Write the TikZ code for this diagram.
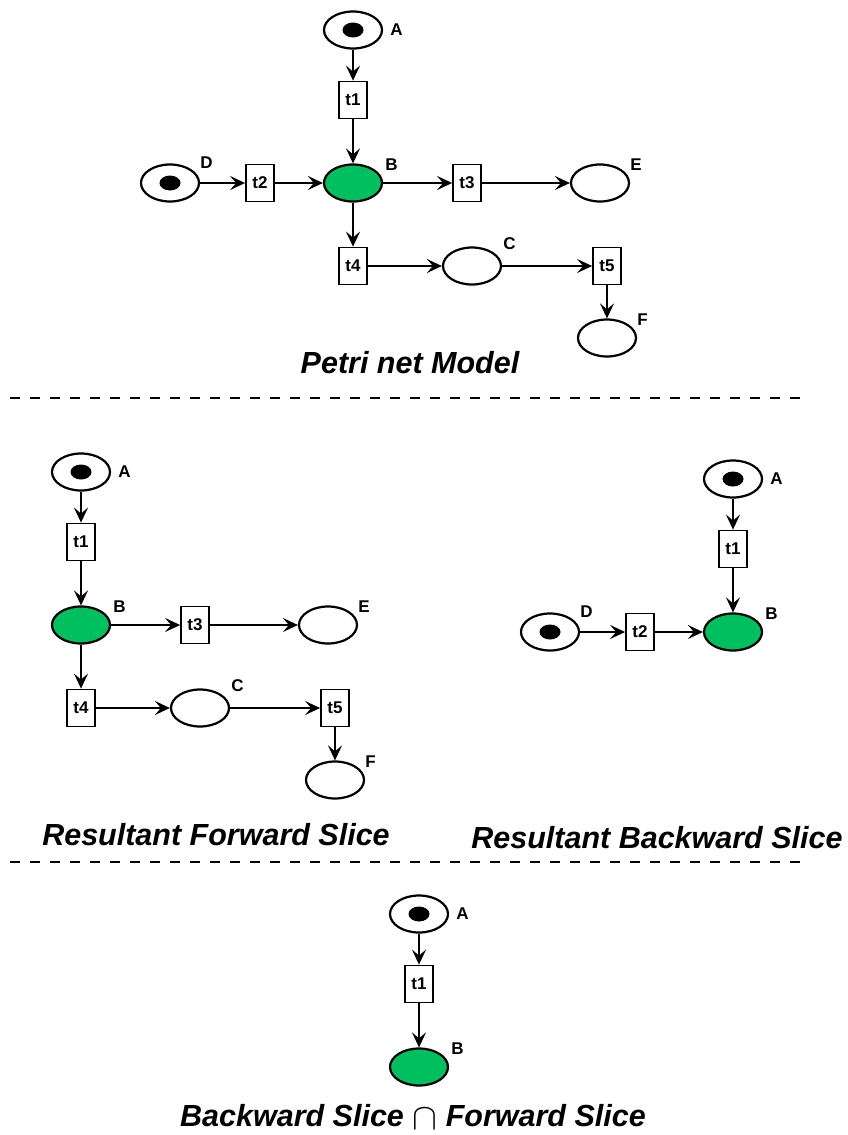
\documentclass[tikz,border=0pt]{standalone}
\usepackage{fontspec}
\setmainfont{Liberation Sans}
\usetikzlibrary{arrows.meta,positioning,shapes.geometric}
\definecolor{placegreen}{HTML}{00BF5F}
\tikzset{
  place/.style={ellipse,draw,line width=2.2pt,minimum width=58pt,minimum height=37pt,inner sep=0pt},
  active/.style={place,fill=placegreen},
  token/.style={ellipse,fill=black,minimum width=21pt,minimum height=15pt,inner sep=0pt},
  trans/.style={rectangle,draw,fill=white,line width=1.8pt,minimum width=28pt,minimum height=37pt,inner sep=1pt,font=\fontsize{17}{17}\selectfont\bfseries},
  lbl/.style={inner sep=0pt,font=\fontsize{17}{17}\selectfont\bfseries},
  arc/.style={-{Stealth[length=15pt,width=14pt,inset=6pt]},line width=2.1pt},
  caption/.style={inner sep=0pt,font=\fontsize{30.5}{30.5}\selectfont\bfseries\itshape},
  divider/.style={dash pattern=on 10pt off 10pt,line width=2.4pt}
}

\begin{document}
\begin{tikzpicture}[x=1pt,y=-1pt]
  \useasboundingbox (0,0) rectangle (848,1135);
  % A -> t1 -> B, in all four nets
  \foreach \n/\x/\y in {p/353/30,f/81/472,b/733/479,i/419/914} {
    \node[place] (\n A) at (\x,\y) {};
    \node[token] (\n Atok) at (\n A) {};
    \node[trans] (\n t1) at (\x,\y+70) {t1};
    \node[active] (\n B) at (\x,\y+153) {};
    \node[lbl,right=7pt of \n A] (\n Al) {A};
    \node[lbl,above right=12pt and 2pt of \n B.east] (\n Bl) {B};
    \draw[arc] (\n A) -- (\n t1);
    \draw[arc] (\n t1) -- (\n B);
  }
  % D -> t2 -> B
  \foreach \n/\x/\y in {p/353/30,b/733/479} {
    \node[place] (\n D) at (\x-183,\y+153) {};
    \node[token] (\n Dtok) at (\n D) {};
    \node[trans] (\n t2) at (\x-93,\y+153) {t2};
    \node[lbl,above right=14pt and 0pt of \n D.east] (\n Dl) {D};
    \draw[arc] (\n D) -- (\n t2);
    \draw[arc] (\n t2) -- (\n B);
  }
  % B -> t3 -> E, B -> t4 -> C -> t5 -> F
  \foreach \n/\x/\y in {p/353/30,f/81/472} {
    \node[trans] (\n t3) at (\x+114,\y+153) {t3};
    \node[place] (\n E) at (\x+247,\y+153) {};
    \node[trans] (\n t4) at (\x,\y+236) {t4};
    \node[place] (\n C) at (\x+119,\y+236) {};
    \node[trans] (\n t5) at (\x+254,\y+236) {t5};
    \node[place] (\n F) at (\x+254,\y+308) {};
    \node[lbl,above right=12pt and 0pt of \n E.east] (\n El) {E};
    \node[lbl,above right=16pt and 1pt of \n C.east] (\n Cl) {C};
    \node[lbl,above right=12pt and 0pt of \n F.east] (\n Fl) {F};
    \draw[arc] (\n B) -- (\n t3);
    \draw[arc] (\n t3) -- (\n E);
    \draw[arc] (\n B) -- (\n t4);
    \draw[arc] (\n t4) -- (\n C);
    \draw[arc] (\n C) -- (\n t5);
    \draw[arc] (\n t5) -- (\n F);
  }
  \node[caption] (ptitle) at (410,363) {Petri net Model};
  \node[caption] (ftitle) at (216,835) {Resultant Forward Slice};
  \node[caption] (btitle) at (657,838) {Resultant Backward Slice};
  \node[caption] (ititle) at (413,1117) {Backward Slice \raisebox{-3pt}{\scalebox{1.5}{$\cap$}} Forward Slice};
  \draw[divider] (10,398) -- (803,398);
  \draw[divider] (10,862) -- (803,862);
\end{tikzpicture}
\end{document}
